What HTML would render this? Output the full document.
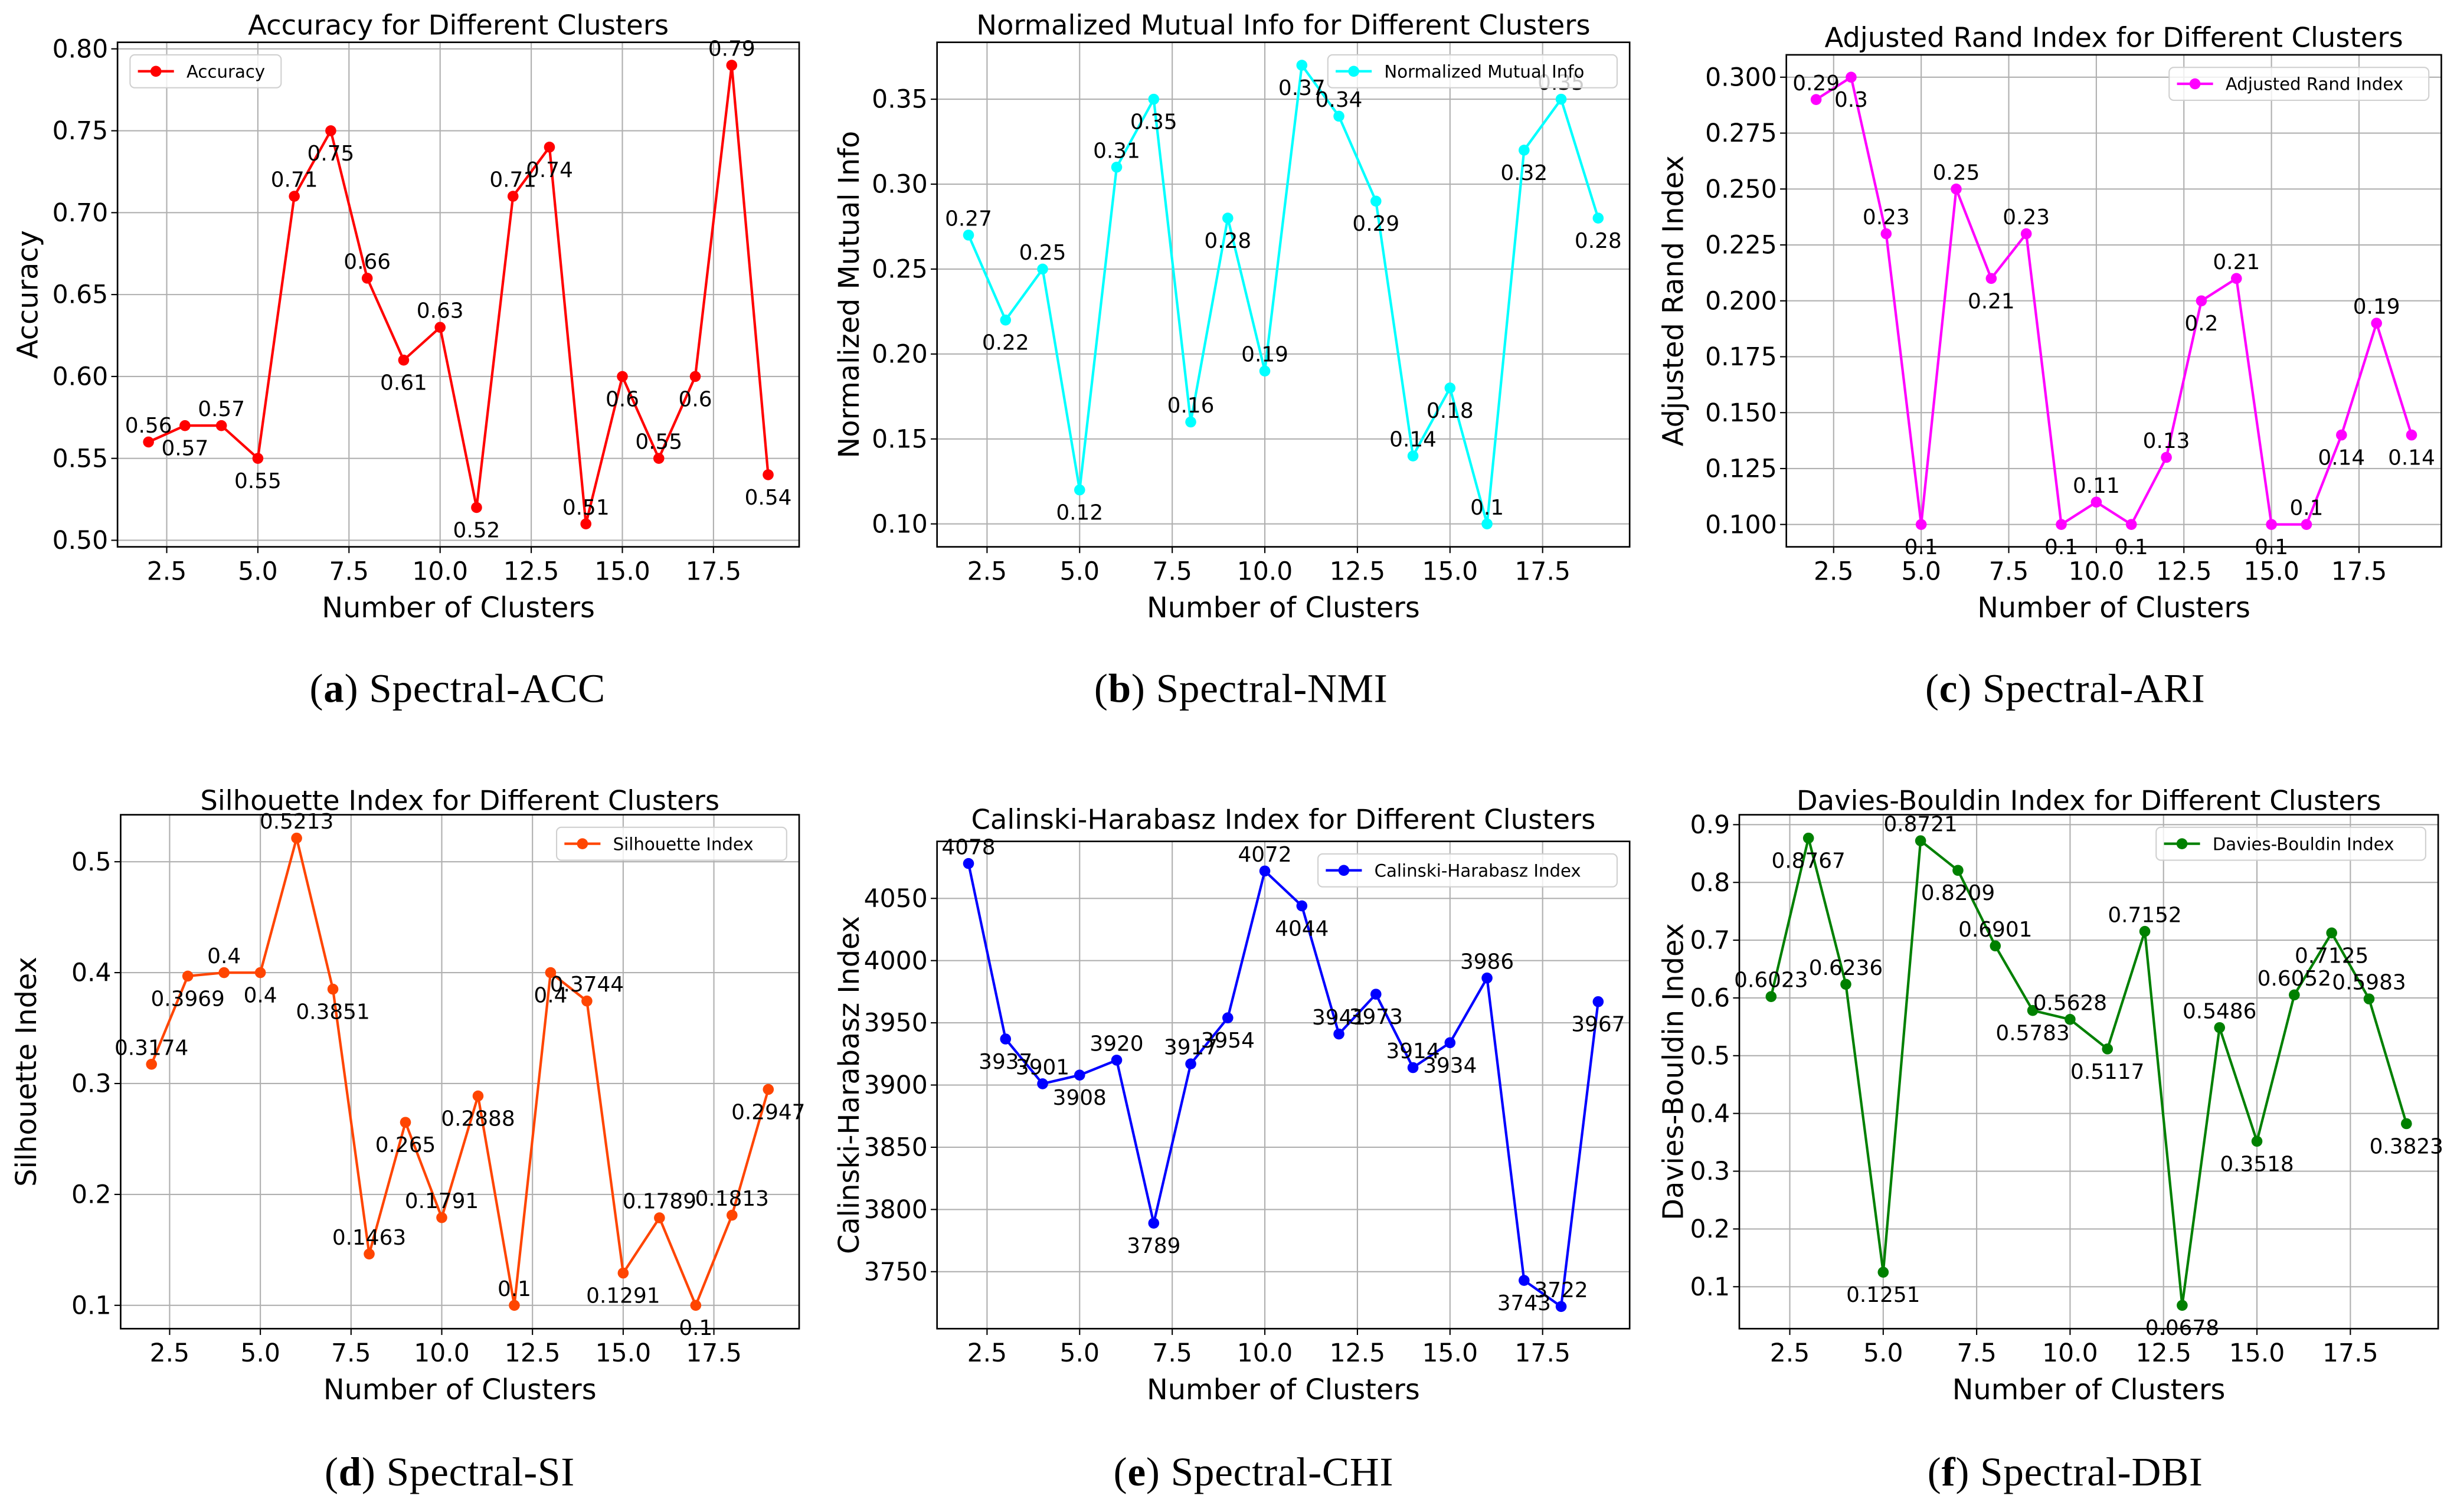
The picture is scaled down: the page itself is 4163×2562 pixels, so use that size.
<!DOCTYPE html>
<html><head><meta charset="utf-8">
<style>
html,body{margin:0;padding:0;background:#fff;}
svg{display:block;}
text{font-family:"DejaVu Sans","Liberation Sans",sans-serif;}
.cap{font-family:"Liberation Serif",serif;}
</style></head>
<body>
<svg id="fig" width="4163" height="2562" viewBox="0 0 1568 965" preserveAspectRatio="none" xmlns="http://www.w3.org/2000/svg"></svg>
<script>
const clusters = [2,3,4,5,6,7,8,9,10,11,12,13,14,15,16,17,18,19];
const xTicks = [2.5,5.0,7.5,10.0,12.5,15.0,17.5];
const accValues = [0.56,0.57,0.57,0.55,0.71,0.75,0.66,0.61,0.63,0.52,0.71,0.74,0.51,0.6,0.55,0.6,0.79,0.54];
const accTicks = [0.50,0.55,0.60,0.65,0.70,0.75,0.80];
const nmiValues = [0.27,0.22,0.25,0.12,0.31,0.35,0.16,0.28,0.19,0.37,0.34,0.29,0.14,0.18,0.1,0.32,0.35,0.28];
const nmiTicks = [0.10,0.15,0.20,0.25,0.30,0.35];
const ariValues = [0.29,0.3,0.23,0.1,0.25,0.21,0.23,0.1,0.11,0.1,0.13,0.2,0.21,0.1,0.1,0.14,0.19,0.14];
const ariTicks = [0.100,0.125,0.150,0.175,0.200,0.225,0.250,0.275,0.300];
const siValues = [0.3174,0.3969,0.4,0.4,0.5213,0.3851,0.1463,0.265,0.1791,0.2888,0.1,0.4,0.3744,0.1291,0.1789,0.1,0.1813,0.2947];
const siTicks = [0.1,0.2,0.3,0.4,0.5];
const chiValues = [4078,3937,3901,3908,3920,3789,3917,3954,4072,4044,3941,3973,3914,3934,3986,3743,3722,3967];
const chiTicks = [3750,3800,3850,3900,3950,4000,4050];
const dbiValues = [0.6023,0.8767,0.6236,0.1251,0.8721,0.8209,0.6901,0.5783,0.5628,0.5117,0.7152,0.0678,0.5486,0.3518,0.6052,0.7125,0.5983,0.3823];
const dbiTicks = [0.1,0.2,0.3,0.4,0.5,0.6,0.7,0.8,0.9];

const NS='http://www.w3.org/2000/svg';
const fig=document.getElementById('fig');
function mk(tag,attrs,parent){const e=document.createElementNS(NS,tag);for(const k in attrs)e.setAttribute(k,attrs[k]);(parent||fig).appendChild(e);return e;}

const panels=[
 {key:'acc',vals:accValues,ticks:accTicks,dec:2,color:'#ff0000',title:'Accuracy for Different Clusters',ylab:'Accuracy',leg:'Accuracy',L:75,R:510,T:27,B:349,ty:16,ylx:18,legPos:'left',cap:'a',capName:'Spectral-ACC',capX:292,capY:440},
 {key:'nmi',vals:nmiValues,ticks:nmiTicks,dec:2,color:'#00ffff',title:'Normalized Mutual Info for Different Clusters',ylab:'Normalized Mutual Info',leg:'Normalized Mutual Info',L:598,R:1040,T:27,B:349,ty:16,ylx:542,legPos:'right',cap:'b',capName:'Spectral-NMI',capX:792,capY:440},
 {key:'ari',vals:ariValues,ticks:ariTicks,dec:3,color:'#ff00ff',title:'Adjusted Rand Index for Different Clusters',ylab:'Adjusted Rand Index',leg:'Adjusted Rand Index',L:1140,R:1558,T:35,B:349,ty:24,ylx:1068,legPos:'right',cap:'c',capName:'Spectral-ARI',capX:1318,capY:440},
 {key:'si',vals:siValues,ticks:siTicks,dec:1,color:'#ff4500',title:'Silhouette Index for Different Clusters',ylab:'Silhouette Index',leg:'Silhouette Index',L:77,R:510,T:520,B:848,ty:511,ylx:17,legPos:'right',cap:'d',capName:'Spectral-SI',capX:287,capY:940},
 {key:'chi',vals:chiValues,ticks:chiTicks,dec:0,color:'#0000ff',title:'Calinski-Harabasz Index for Different Clusters',ylab:'Calinski-Harabasz Index',leg:'Calinski-Harabasz Index',L:598,R:1040,T:537,B:848,ty:523,ylx:542,legPos:'right',cap:'e',capName:'Spectral-CHI',capX:800,capY:940},
 {key:'dbi',vals:dbiValues,ticks:dbiTicks,dec:1,color:'#008000',title:'Davies-Bouldin Index for Different Clusters',ylab:'Davies-Bouldin Index',leg:'Davies-Bouldin Index',L:1110,R:1556,T:520,B:848,ty:511,ylx:1068,legPos:'right',cap:'f',capName:'Spectral-DBI',capX:1318,capY:940}
];

panels.forEach(p=>{
  const g=mk('g',{});
  
  
  const xmin=Math.min(...clusters),xmax=Math.max(...clusters);
  const xm=(xmax-xmin)*0.05,x0=xmin-xm,x1=xmax+xm;
  const ymin=Math.min(...p.vals),ymax=Math.max(...p.vals);
  const ym=(ymax-ymin)*0.05,y0=ymin-ym,y1=ymax+ym;
  const X=v=>p.L+(v-x0)/(x1-x0)*(p.R-p.L);
  const Y=v=>p.B-(v-y0)/(y1-y0)*(p.B-p.T);
  xTicks.forEach(t=>{
    const gl=mk('line',{x1:X(t),x2:X(t),y1:p.T,y2:p.B,stroke:'#b0b0b0','stroke-width':0.8},g);
    
    mk('line',{x1:X(t),x2:X(t),y1:p.B,y2:p.B+4,stroke:'#000','stroke-width':0.8},g);
    const tl=mk('text',{x:X(t),y:p.B+21,'font-size':16,'text-anchor':'middle'},g);
    tl.textContent=t.toFixed(1);
    
  });
  p.ticks.forEach(t=>{
    if(t<y0-1e-9||t>y1+1e-9)return;
    const gl=mk('line',{x1:p.L,x2:p.R,y1:Y(t),y2:Y(t),stroke:'#b0b0b0','stroke-width':0.8},g);
    
    mk('line',{x1:p.L-4,x2:p.L,y1:Y(t),y2:Y(t),stroke:'#000','stroke-width':0.8},g);
    const tl=mk('text',{x:p.L-6,y:Y(t)+5.5,'font-size':16,'text-anchor':'end'},g);
    tl.textContent=p.dec?t.toFixed(p.dec):String(t);
    
  });
  const pts=clusters.map((c,i)=>X(c)+','+Y(p.vals[i])).join(' ');
  const line=mk('polyline',{points:pts,fill:'none',stroke:p.color,'stroke-width':1.6},g);
  
  clusters.forEach((c,i)=>{
    const pt=mk('circle',{cx:X(c),cy:Y(p.vals[i]),r:3.5,fill:p.color},g);
    
    const above=i%2===0;
    const lb=mk('text',{x:X(c),y:Y(p.vals[i])+(above?-6:19),'font-size':13.5,'text-anchor':'middle'},g);
    lb.textContent=String(p.vals[i]);
    
  });
  const fr=mk('rect',{x:p.L,y:p.T,width:p.R-p.L,height:p.B-p.T,fill:'none',stroke:'#000','stroke-width':1},g);
  
  const tt=mk('text',{x:(p.L+p.R)/2,y:p.ty+6,'font-size':17.5,'text-anchor':'middle'},g);
  tt.textContent=p.title;
  
  const xl=mk('text',{x:(p.L+p.R)/2,y:p.B+45,'font-size':18,'text-anchor':'middle'},g);
  xl.textContent='Number of Clusters';
  
  const yc=(p.T+p.B)/2;
  const yl=mk('text',{x:p.ylx+6,y:yc,'font-size':18,'text-anchor':'middle',transform:`rotate(-90 ${p.ylx+6} ${yc})`},g);
  yl.textContent=p.ylab;
  
  const lw=p.leg.length*6.3+46, lh=21;
  const lx=p.legPos==='left'?p.L+8:p.R-8-lw, ly=p.T+8;
  const lg=mk('g',{},g);
  
  mk('rect',{x:lx,y:ly,width:lw,height:lh,rx:3,fill:'#fff','fill-opacity':0.8,stroke:'#d0d0d0','stroke-width':0.8},lg);
  mk('line',{x1:lx+5,x2:lx+28,y1:ly+lh/2,y2:ly+lh/2,stroke:p.color,'stroke-width':1.6},lg);
  mk('circle',{cx:lx+16.5,cy:ly+lh/2,r:3.5,fill:p.color},lg);
  const lt=mk('text',{x:lx+36,y:ly+lh/2+4,'font-size':11},lg);
  lt.textContent=p.leg;
  
  const cp=mk('text',{x:p.capX,y:p.capY+8,'font-size':26,'text-anchor':'middle',class:'cap','letter-spacing':'0.3'},fig);
  
  const s1=mk('tspan',{},cp);s1.textContent='(';
  const s2=mk('tspan',{'font-weight':'bold'},cp);s2.textContent=p.cap;
  const s3=mk('tspan',{},cp);s3.textContent=') '+p.capName;
});
</script>
</body></html>
